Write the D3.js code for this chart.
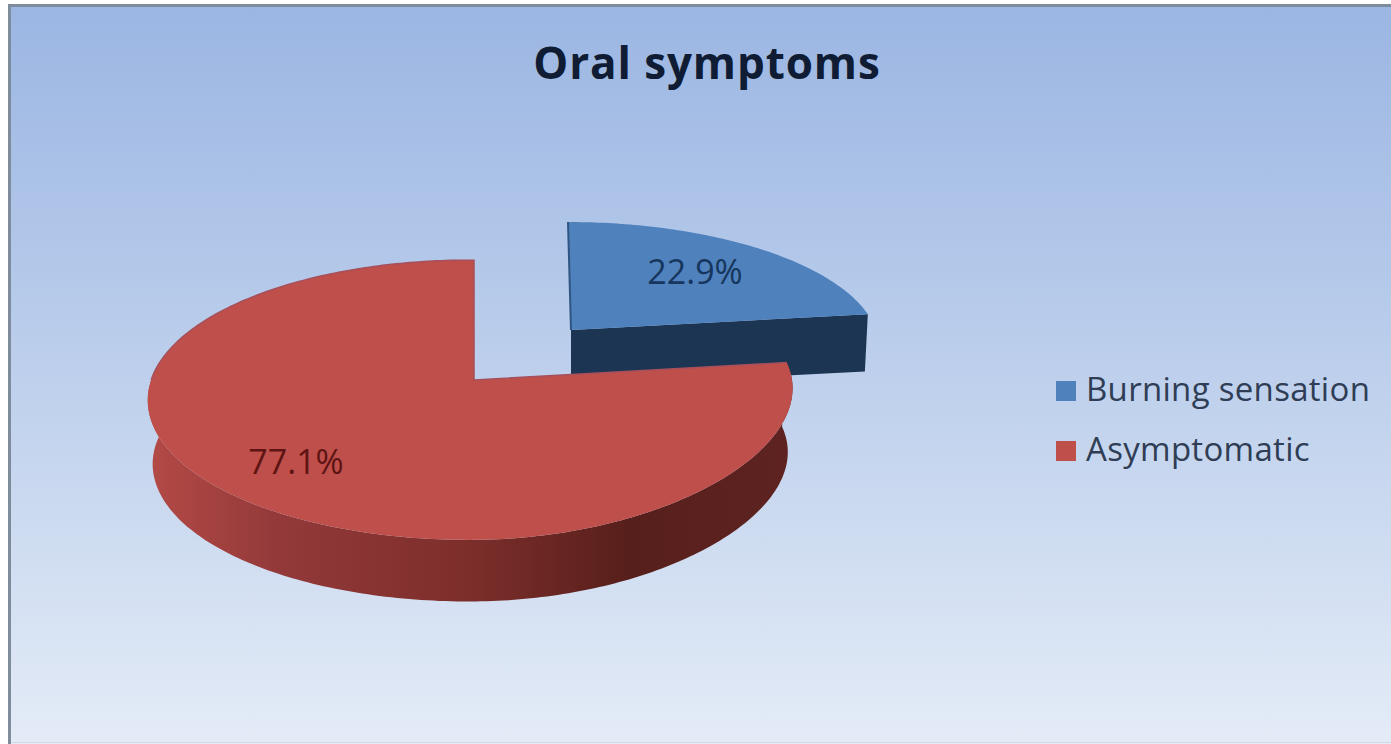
<!DOCTYPE html>
<html>
<head>
<meta charset="utf-8">
<title>Oral symptoms</title>
<script src="https://cdn.jsdelivr.net/npm/d3@7"></script>
<style>
  html, body { margin: 0; padding: 0; background: #fff; }
  svg { display: block; }
  text { font-family: "Open Sans", sans-serif; }
</style>
</head>
<body>
<div id="chart"></div>
<script>
const chartTitle = "Oral symptoms";
const categories = ["Burning sensation", "Asymptomatic"];
const values = [22.9, 77.1];
const topColors = ["#4f81bd", "#bf4f4b"];
const labelColors = ["#17365d", "#5e1412"];

const width = 1391, height = 744;

// Each slice has its own tilted-disc projection, the blue one is pulled out.
// kr flattens the right half of the disc a little less than the left.
const views = [
  { x: 571, y: 330, w: 305, s: 122, k: 0.13, kr: 0.13, m: 0, shear: -3.4, depth: 57, shrink: 0.99 },
  { x: 474, y: 380, w: 318, s: 137, k: 0.143, kr: 0.06, m: 0.015, shear: 0, depth: 64, shrink: 0.985 }
];

function project(v, angle, r, lower) {
  const X = r * Math.sin(angle), Y = r * Math.cos(angle);
  const d = 1 + v.k * Y + v.m * X;
  const dx = X > 0 ? 1 + v.kr * Y : d;
  const f = lower ? v.shrink : 1;
  return [
    v.x + f * (v.w * X + v.shear * Y) / dx,
    v.y + (lower ? v.depth : 0) - f * v.s * Y / d
  ];
}

function rim(v, a0, a1, lower) {
  const n = Math.max(2, Math.ceil(Math.abs(a1 - a0) * 60));
  return d3.range(n + 1).map(i => project(v, a0 + (a1 - a0) * i / n, 1, lower));
}

const line = d3.line();
const svg = d3.select("#chart").append("svg")
  .attr("width", width)
  .attr("height", height);

const defs = svg.append("defs");

const bg = defs.append("linearGradient")
  .attr("id", "bg").attr("x1", 0).attr("y1", 0).attr("x2", 0).attr("y2", 1);
bg.append("stop").attr("offset", "0%").attr("stop-color", "#9bb6e3");
bg.append("stop").attr("offset", "45%").attr("stop-color", "#bacdeb");
bg.append("stop").attr("offset", "100%").attr("stop-color", "#e4ecf7");

// Side wall of the big slice, shaded left to right
const wall = defs.append("linearGradient")
  .attr("id", "redWall").attr("gradientUnits", "userSpaceOnUse")
  .attr("x1", 150).attr("y1", 0).attr("x2", 790).attr("y2", 0);
[[0, "#b34a46"], [0.2, "#93393a"], [0.5, "#7c2e2b"], [0.75, "#571f1b"], [1, "#5e2320"]]
  .forEach(([o, c]) => wall.append("stop").attr("offset", o).attr("stop-color", c));

// Panel and its border
svg.append("rect")
  .attr("x", 9.5).attr("y", 5.5)
  .attr("width", width).attr("height", height)
  .attr("fill", "url(#bg)")
  .attr("stroke", "#7e8c9c")
  .attr("stroke-width", 3);

svg.append("line")
  .attr("x1", 11).attr("x2", width)
  .attr("y1", 742.5).attr("y2", 742.5)
  .attr("stroke", "#d3d9e3");

svg.append("text")
  .attr("x", 707).attr("y", 79)
  .attr("text-anchor", "middle")
  .attr("font-size", 44)
  .attr("letter-spacing", 0.9)
  .attr("font-weight", 700)
  .attr("fill", "#0f1c33")
  .text(chartTitle);

const pie = d3.pie().sort(null);
const slices = pie(values);

// Blue slice: cut face first, then its top
const blue = slices[0], blueView = views[0];
const bluePts = [
  project(blueView, blue.endAngle, 0, false),
  project(blueView, blue.endAngle, 1, false),
  project(blueView, blue.endAngle, 1, true),
  project(blueView, blue.endAngle, 0, true)
];
svg.append("path")
  .attr("d", line(bluePts) + "Z")
  .attr("fill", "#1b3553");

svg.append("path")
  .attr("d", line([project(blueView, 0, 0, false), ...rim(blueView, blue.startAngle, blue.endAngle, false)]) + "Z")
  .attr("fill", topColors[0]);

svg.append("path")
  .attr("d", line([project(blueView, 0, 0, false), project(blueView, 0, 1, false)]))
  .attr("fill", "none")
  .attr("stroke", "#2f5583")
  .attr("stroke-width", 2);

// Red slice: outer wall band, then its top
const red = slices[1], redView = views[1];
svg.append("path")
  .attr("d", line([
    ...rim(redView, red.startAngle, red.endAngle, false),
    ...rim(redView, red.endAngle, red.startAngle, true)
  ]) + "Z")
  .attr("fill", "url(#redWall)");

svg.append("path")
  .attr("d", line([project(redView, 0, 0, false), ...rim(redView, red.startAngle, red.endAngle, false)]) + "Z")
  .attr("fill", topColors[1]);

// Soft darker edge along the back of the red top
svg.append("path")
  .attr("d", line([
    ...rim(redView, Math.PI * 1.5, red.endAngle, false),
    project(redView, 0, 0, false),
    project(redView, red.startAngle, 1, false)
  ]))
  .attr("fill", "none")
  .attr("stroke", "#a5505a")
  .attr("stroke-width", 1.5);

// Percentage labels
const labelPos = [[695, 284], [296, 474]];
svg.selectAll("text.pct")
  .data(slices)
  .join("text")
  .attr("class", "pct")
  .attr("x", (d, i) => labelPos[i][0])
  .attr("y", (d, i) => labelPos[i][1])
  .attr("text-anchor", "middle")
  .attr("font-size", 34)
  .attr("fill", (d, i) => labelColors[i])
  .text(d => d.value.toFixed(1) + "%");

// Legend
const legendY = d3.scalePoint().domain(categories).range([391, 451]);
const legend = svg.selectAll("g.legend")
  .data(categories)
  .join("g")
  .attr("class", "legend")
  .attr("transform", d => `translate(1056,${legendY(d)})`);
legend.append("rect")
  .attr("y", -10).attr("width", 20).attr("height", 20)
  .attr("fill", (d, i) => topColors[i]);
legend.append("text")
  .attr("x", 30).attr("y", 10)
  .attr("font-size", 33)
  .attr("letter-spacing", 0.3)
  .attr("fill", "#2f3d55")
  .text(d => d);
</script>
</body>
</html>
